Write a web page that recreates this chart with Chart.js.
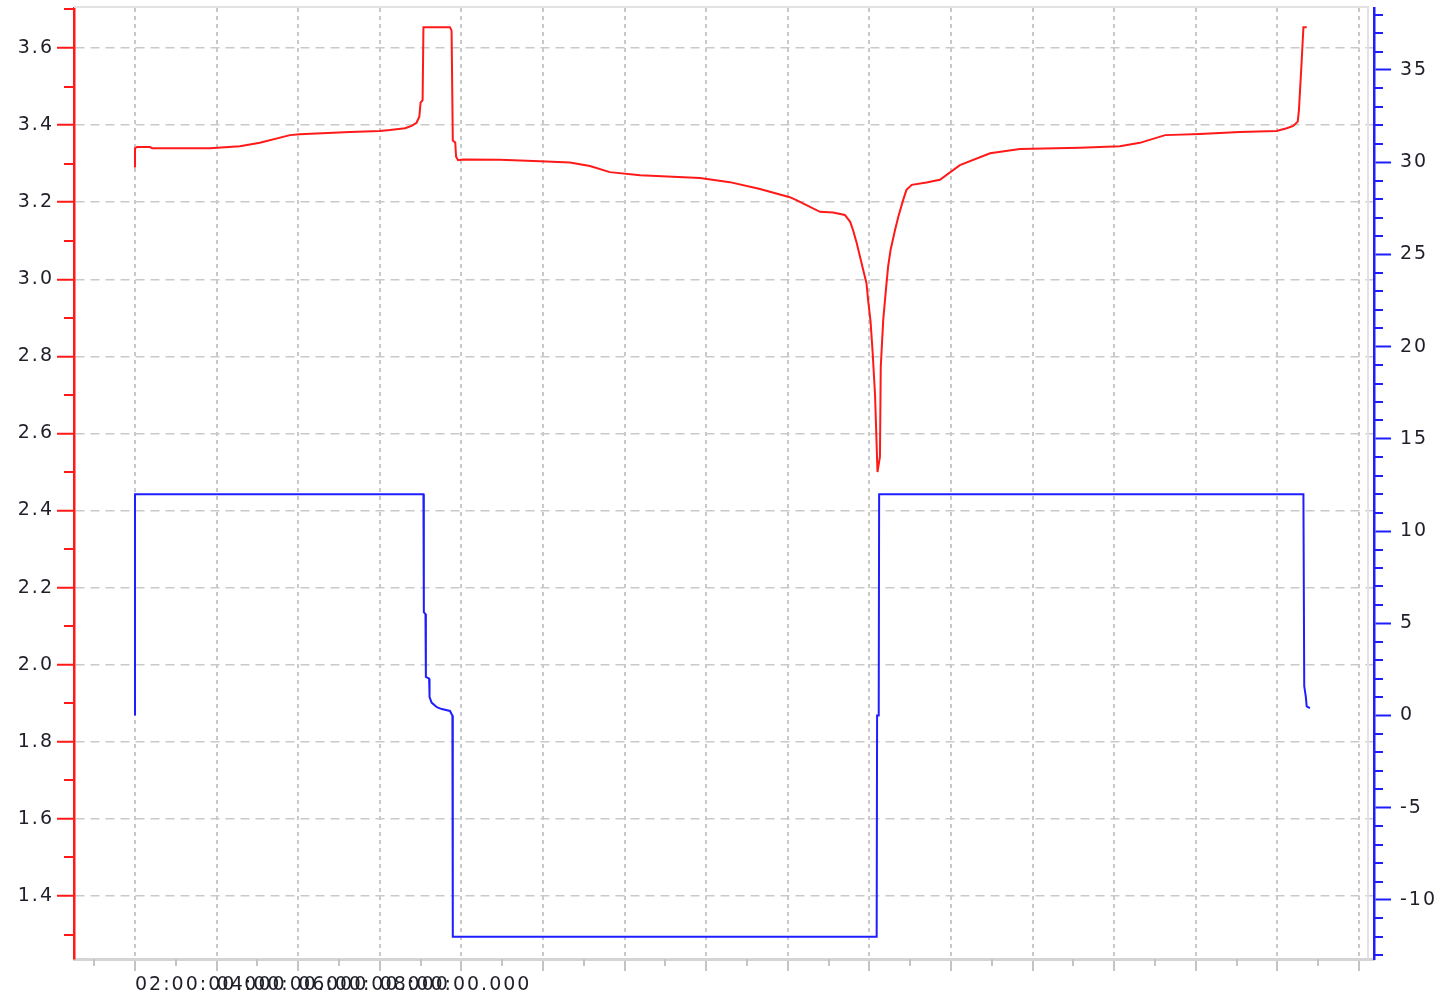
<!DOCTYPE html>
<html lang="en">
<head>
    <meta charset="UTF-8">
    <title>Voltage / Current</title>
    <script src="https://cdn.jsdelivr.net/npm/chart.js"></script>
    <style>
        body {
            margin: 0;
            background-color: #ffffff;
        }
    </style>
</head>
<body>
    <canvas id="cycleChart" width="1452" height="997"></canvas>

    <script>
        // red trace (left axis), time in hours
        const voltageTime = [2.0, 2.0, 2.05, 2.37, 2.42, 3.84, 4.57, 5.06, 5.80, 6.04, 7.27, 8.00, 8.25, 8.62, 8.78, 8.90, 8.97, 9.00, 9.05,
            9.07, 9.72, 9.76, 9.79, 9.85, 9.87, 9.92, 10.05, 10.95, 11.93, 12.66, 13.15, 13.64, 14.38, 15.85, 16.58, 17.32, 18.05, 18.20,
            18.79, 19.11, 19.40, 19.53, 19.60, 19.69, 19.77, 19.85, 19.93, 19.97, 20.03, 20.08, 20.14, 20.20, 20.26, 20.28, 20.34, 20.41,
            20.46, 20.52, 20.63, 20.71, 20.83, 20.91, 21.04, 21.40, 21.73, 22.22, 22.96, 23.69, 25.16, 26.14, 26.63, 27.25, 28.10, 29.08,
            29.98, 30.23, 30.39, 30.50, 30.53, 30.59, 30.64, 30.72];
        const voltage = [3.29, 3.34, 3.343, 3.343, 3.34, 3.34, 3.345, 3.354, 3.374, 3.376, 3.382, 3.385, 3.387, 3.392, 3.398, 3.406, 3.422, 3.458, 3.465,
            3.654, 3.654, 3.645, 3.36, 3.355, 3.318, 3.309, 3.311, 3.31, 3.306, 3.303, 3.294, 3.278, 3.27, 3.263, 3.252, 3.234, 3.213, 3.206,
            3.175, 3.173, 3.167, 3.149, 3.128, 3.094, 3.059, 3.024, 2.99, 2.946, 2.89, 2.812, 2.70, 2.50, 2.54, 2.773, 2.894, 2.977,
            3.033, 3.076, 3.128, 3.162, 3.206, 3.232, 3.245, 3.251, 3.258, 3.296, 3.327, 3.338, 3.341, 3.345, 3.354, 3.374, 3.377, 3.382,
            3.385, 3.392, 3.398, 3.409, 3.439, 3.552, 3.654, 3.654];

        // blue trace (right axis)
        const currentTime = [2.0, 2.0, 9.07, 9.08, 9.12, 9.13, 9.21, 9.22, 9.27, 9.40, 9.52, 9.72, 9.78, 9.79, 20.18, 20.19, 20.23, 20.24,
            30.64, 30.66, 30.70, 30.72, 30.80];
        const current = [0.0, 12.0, 12.0, 5.6, 5.5, 2.1, 2.0, 1.0, 0.7, 0.45, 0.35, 0.25, 0.0, -12.0, -12.0, 0.0, 0.0, 12.0,
            12.0, 1.6, 1.0, 0.5, 0.4];

        const xTickValues = [2, 4, 6, 8, 10, 12, 14, 16, 18, 20, 22, 24, 26, 28, 30, 32];
        const xTickLabels = ['02:00:00.000', '04:00:00.000', '06:00:00.000', '08:00:00.000'];
        const leftTicks = [1.4, 1.6, 1.8, 2.0, 2.2, 2.4, 2.6, 2.8, 3.0, 3.2, 3.4, 3.6];
        const rightTicks = [-10, -5, 0, 5, 10, 15, 20, 25, 30, 35];

        const RED = 'rgb(255, 25, 25)';
        const BLUE = 'rgb(30, 30, 255)';
        const GRID = '#c9c9c9';
        const TEXT = '#1f1f2a';

        const tickFont = { family: 'DejaVu Sans', size: 19 };

        // wider text, the original labels are stretched
        const spacingPlugin = {
            id: 'spacing',
            beforeLayout(chart) { chart.ctx.letterSpacing = '2px'; },
            beforeDraw(chart) { chart.ctx.letterSpacing = '2px'; }
        };

        // light frame + minor ticks on all three axes
        const decorPlugin = {
            id: 'decor',
            beforeDatasetsDraw(chart) {
                const { ctx, chartArea } = chart;
                ctx.save();
                ctx.strokeStyle = '#e2e2e2';
                ctx.lineWidth = 2;
                ctx.beginPath();
                ctx.moveTo(chartArea.left, chartArea.top - 1);
                ctx.lineTo(chartArea.right - 6, chartArea.top - 1);
                ctx.lineTo(chartArea.right - 6, chartArea.bottom);
                ctx.stroke();
                ctx.restore();
            },
            afterDraw(chart) {
                const { ctx, scales } = chart;
                const { x, y, y2 } = scales;
                ctx.save();
                ctx.lineWidth = 2;

                ctx.strokeStyle = RED;
                for (let i = 13; i <= 37; i += 2) {
                    const py = Math.round(y.getPixelForValue(i / 10));
                    ctx.beginPath();
                    ctx.moveTo(y.right - 10, py);
                    ctx.lineTo(y.right, py);
                    ctx.stroke();
                }

                ctx.strokeStyle = BLUE;
                for (let v = -13; v <= 38; v++) {
                    if (v % 5 === 0) continue;
                    const py = Math.round(y2.getPixelForValue(v));
                    ctx.beginPath();
                    ctx.moveTo(y2.left, py);
                    ctx.lineTo(y2.left + 9, py);
                    ctx.stroke();
                }

                ctx.strokeStyle = '#c4c4c4';
                for (let h = 1; h <= 31; h += 2) {
                    const px = Math.round(x.getPixelForValue(h));
                    ctx.beginPath();
                    ctx.moveTo(px, x.top);
                    ctx.lineTo(px, x.top + 7);
                    ctx.stroke();
                }
                ctx.restore();
            }
        };

        const noEdgePadding = scale => {
            scale.paddingTop = 0;
            scale.paddingBottom = 0;
            scale.paddingLeft = 0;
            scale.paddingRight = 0;
        };

        const ctx = document.getElementById('cycleChart').getContext('2d');

        const cycleChart = new Chart(ctx, {
            type: 'line',
            data: {
                datasets: [{
                    label: 'Voltage',
                    data: voltageTime.map((t, i) => ({ x: t, y: voltage[i] })),
                    borderColor: RED,
                    borderWidth: 2,
                    pointRadius: 0,
                    tension: 0,
                    fill: false,
                    yAxisID: 'y'
                }, {
                    label: 'Current',
                    data: currentTime.map((t, i) => ({ x: t, y: current[i] })),
                    borderColor: BLUE,
                    borderWidth: 2,
                    pointRadius: 0,
                    tension: 0,
                    fill: false,
                    yAxisID: 'y2'
                }]
            },
            options: {
                responsive: false,
                animation: false,
                devicePixelRatio: 1,
                layout: { padding: { top: 8, left: 0, right: 0, bottom: 0 } },
                plugins: {
                    legend: { display: false },
                    tooltip: { enabled: false }
                },
                scales: {
                    x: {
                        type: 'linear',
                        position: 'bottom',
                        min: 0.505,
                        max: 32.37,
                        afterBuildTicks: scale => { scale.ticks = xTickValues.map(v => ({ value: v })); },
                        afterFit: scale => { scale.height = 38; noEdgePadding(scale); },
                        grid: {
                            color: GRID,
                            lineWidth: 2,
                            tickColor: '#c4c4c4',
                            tickLength: 12,
                            tickWidth: 2
                        },
                        border: { color: '#d4d4d4', width: 3, dash: [4, 4] },
                        ticks: {
                            autoSkip: false,
                            maxRotation: 0,
                            align: 'start',
                            padding: 3,
                            color: TEXT,
                            font: tickFont,
                            callback: (value, index) => xTickLabels[index] || ''
                        }
                    },
                    y: {
                        type: 'linear',
                        position: 'left',
                        min: 1.2366,
                        max: 3.7038,
                        afterBuildTicks: scale => { scale.ticks = leftTicks.map(v => ({ value: v })); },
                        afterFit: scale => { scale.width = 74; noEdgePadding(scale); },
                        grid: {
                            color: GRID,
                            lineWidth: 1.5,
                            tickColor: RED,
                            tickLength: 17,
                            tickWidth: 2
                        },
                        border: { color: RED, width: 2.5, dash: [9, 6] },
                        ticks: {
                            padding: 3,
                            color: TEXT,
                            font: tickFont,
                            callback: value => value.toFixed(1)
                        }
                    },
                    y2: {
                        type: 'linear',
                        position: 'right',
                        min: -13.2,
                        max: 38.36,
                        afterBuildTicks: scale => { scale.ticks = rightTicks.map(v => ({ value: v })); },
                        afterFit: scale => { scale.width = 78; noEdgePadding(scale); },
                        grid: {
                            drawOnChartArea: false,
                            tickColor: BLUE,
                            tickLength: 17,
                            tickWidth: 2
                        },
                        border: { color: BLUE, width: 2.5 },
                        ticks: {
                            padding: 9,
                            color: TEXT,
                            font: tickFont,
                            callback: value => String(value)
                        }
                    }
                }
            },
            plugins: [spacingPlugin, decorPlugin]
        });
    </script>
</body>
</html>
